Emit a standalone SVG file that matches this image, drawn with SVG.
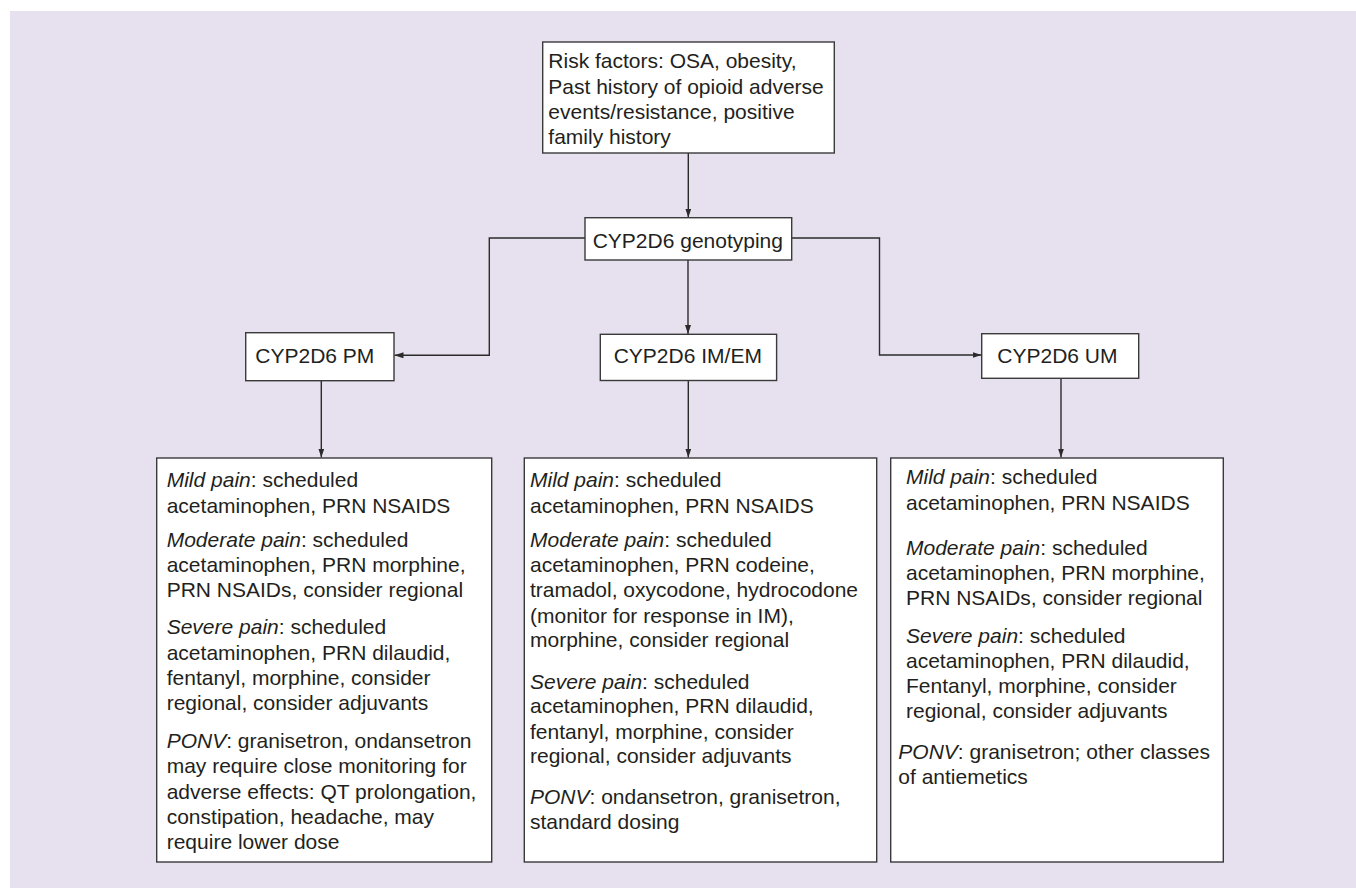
<svg xmlns="http://www.w3.org/2000/svg" width="1356" height="888" viewBox="0 0 1356 888">
<style>
.box{fill:#ffffff;stroke:#3a3a3a;stroke-width:1.4}
.t{font-family:"Liberation Sans",Arial,sans-serif;font-size:21px;fill:#231f20}
.i{font-style:italic}
.c{fill:none;stroke:#2b2b2b;stroke-width:1.4}
</style>
<defs>
<marker id="ah" markerUnits="userSpaceOnUse" markerWidth="10" markerHeight="7" refX="9" refY="3" orient="auto">
<path d="M0,0 L9,3 L0,6 Z" fill="#2b2b2b"/>
</marker>
</defs>
<rect x="0" y="0" width="1356" height="888" fill="#ffffff"/>
<rect x="10" y="11" width="1346" height="877" fill="#E7E1EF"/>

<g id="connectors">
<path class="c" d="M688.3,153 V217.5" marker-end="url(#ah)"/>
<path class="c" d="M585,238 H489.3 V355.3 H394.5" marker-end="url(#ah)"/>
<path class="c" d="M791.7,238 H879.5 V355 H981.5" marker-end="url(#ah)"/>
<path class="c" d="M688,260 V334" marker-end="url(#ah)"/>
<path class="c" d="M321.3,380.7 V457.5" marker-end="url(#ah)"/>
<path class="c" d="M688.3,380.5 V457.5" marker-end="url(#ah)"/>
<path class="c" d="M1061,378.3 V457.5" marker-end="url(#ah)"/>
</g>

<g id="risk">
<rect class="box" x="542.7" y="42" width="291.6" height="111"/>
<text class="t" x="548.3" y="68.3">Risk factors: OSA, obesity,</text>
<text class="t" x="548.3" y="94">Past history of opioid adverse</text>
<text class="t" x="548.3" y="119.3">events/resistance, positive</text>
<text class="t" x="548.3" y="144.3">family history</text>
</g>

<g id="genotyping">
<rect class="box" x="585" y="217.7" width="206.7" height="42.3"/>
<text class="t" x="592.7" y="247.7">CYP2D6 genotyping</text>
</g>

<g id="pm">
<rect class="box" x="245.7" y="332.7" width="148.3" height="48"/>
<text class="t" x="255.3" y="363">CYP2D6 PM</text>
</g>

<g id="imem">
<rect class="box" x="600.3" y="334.3" width="176.3" height="46.2"/>
<text class="t" x="613.7" y="363">CYP2D6 IM/EM</text>
</g>

<g id="um">
<rect class="box" x="981.7" y="333.7" width="157" height="44.6"/>
<text class="t" x="997.3" y="363">CYP2D6 UM</text>
</g>

<g id="pm-detail">
<rect class="box" x="156.7" y="458" width="335" height="404"/>
<text class="t" x="166.7" y="486.7"><tspan class="i">Mild pain</tspan>: scheduled</text>
<text class="t" x="166.7" y="512.7">acetaminophen, PRN NSAIDS</text>
<text class="t" x="166.7" y="546.7"><tspan class="i">Moderate pain</tspan>: scheduled</text>
<text class="t" x="166.7" y="572">acetaminophen, PRN morphine,</text>
<text class="t" x="166.7" y="596.7">PRN NSAIDs, consider regional</text>
<text class="t" x="166.7" y="634.3"><tspan class="i">Severe pain</tspan>: scheduled</text>
<text class="t" x="166.7" y="660">acetaminophen, PRN dilaudid,</text>
<text class="t" x="166.7" y="685">fentanyl, morphine, consider</text>
<text class="t" x="166.7" y="710">regional, consider adjuvants</text>
<text class="t" x="166.7" y="747.7"><tspan class="i">PONV</tspan>: granisetron, ondansetron</text>
<text class="t" x="166.7" y="773.3">may require close monitoring for</text>
<text class="t" x="166.7" y="799">adverse effects: QT prolongation,</text>
<text class="t" x="166.7" y="824">constipation, headache, may</text>
<text class="t" x="166.7" y="849.3">require lower dose</text>
</g>

<g id="imem-detail">
<rect class="box" x="524.3" y="458" width="352.4" height="404"/>
<text class="t" x="530" y="486.7"><tspan class="i">Mild pain</tspan>: scheduled</text>
<text class="t" x="530" y="512.7">acetaminophen, PRN NSAIDS</text>
<text class="t" x="530" y="546.7"><tspan class="i">Moderate pain</tspan>: scheduled</text>
<text class="t" x="530" y="572">acetaminophen, PRN codeine,</text>
<text class="t" x="530" y="596.7">tramadol, oxycodone, hydrocodone</text>
<text class="t" x="530" y="622.7">(monitor for response in IM),</text>
<text class="t" x="530" y="647.3">morphine, consider regional</text>
<text class="t" x="530" y="688.7"><tspan class="i">Severe pain</tspan>: scheduled</text>
<text class="t" x="530" y="713.3">acetaminophen, PRN dilaudid,</text>
<text class="t" x="530" y="738.7">fentanyl, morphine, consider</text>
<text class="t" x="530" y="763.3">regional, consider adjuvants</text>
<text class="t" x="530" y="804"><tspan class="i">PONV</tspan>: ondansetron, granisetron,</text>
<text class="t" x="530" y="829.3">standard dosing</text>
</g>

<g id="um-detail">
<rect class="box" x="890.7" y="458" width="332.6" height="404"/>
<text class="t" x="906" y="484"><tspan class="i">Mild pain</tspan>: scheduled</text>
<text class="t" x="906" y="510">acetaminophen, PRN NSAIDS</text>
<text class="t" x="906" y="555"><tspan class="i">Moderate pain</tspan>: scheduled</text>
<text class="t" x="906" y="580">acetaminophen, PRN morphine,</text>
<text class="t" x="906" y="605.3">PRN NSAIDs, consider regional</text>
<text class="t" x="906" y="642.7"><tspan class="i">Severe pain</tspan>: scheduled</text>
<text class="t" x="906" y="668.3">acetaminophen, PRN dilaudid,</text>
<text class="t" x="906" y="693.3">Fentanyl, morphine, consider</text>
<text class="t" x="906" y="718.3">regional, consider adjuvants</text>
<text class="t" x="898.3" y="759.3"><tspan class="i">PONV</tspan>: granisetron; other classes</text>
<text class="t" x="898.3" y="784.3">of antiemetics</text>
</g>
</svg>
